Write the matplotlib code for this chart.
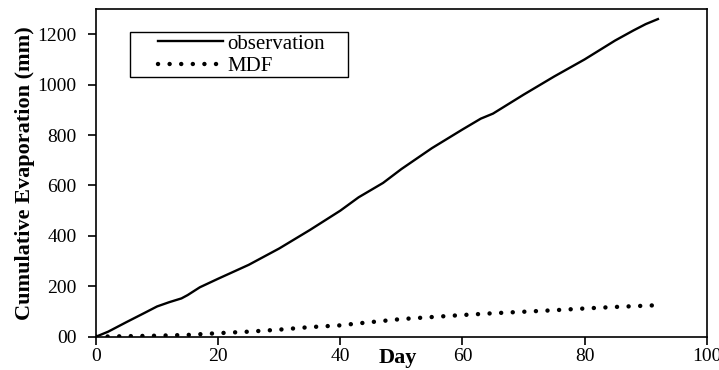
import matplotlib
matplotlib.use("Agg")
import matplotlib.pyplot as plt
from matplotlib.patches import Rectangle

plt.rcParams['font.family'] = ['Liberation Serif', 'DejaVu Serif']

# observed cumulative evaporation (mm)
obs_day = [0, 2, 5, 8, 10, 12, 14, 15, 17, 20, 25, 30, 35, 40, 43, 47, 50, 55,
           60, 63, 65, 70, 75, 80, 85, 88, 90, 92]
obs_val = [0, 20, 58, 95, 120, 137, 152, 165, 196, 230, 285, 350, 423, 500, 553,
           610, 665, 748, 822, 865, 885, 960, 1032, 1100, 1175, 1215, 1240, 1260]

# MDF model
mdf_day = [0, 5, 10, 15, 20, 25, 30, 35, 40, 43, 50, 55, 60, 65, 70, 75, 80, 85, 92]
mdf_val = [0, 2, 4, 7, 14, 20, 28, 38, 45, 53, 70, 78, 86, 93, 99, 105, 112, 118, 125]

yticks = [0, 200, 400, 600, 800, 1000, 1200]
ytick_labels = ['00', '200', '400', '600', '800', '1000', '1200']
xticks = [0, 20, 40, 60, 80, 100]

fig = plt.figure(figsize=(7.19, 3.70), dpi=100)
ax = fig.add_axes([0.1335, 0.09, 0.8495, 0.8857])

ax.plot(obs_day, obs_val, color='black', lw=1.7, label='observation')
ax.plot(mdf_day, mdf_val, color='black', lw=3.2, linestyle=(0, (0.01, 2.6)),
        dash_capstyle='round', label='MDF')

ax.set_xlim(0, 100)
ax.set_ylim(0, 1300)
ax.set_xticks(xticks)
ax.set_yticks(yticks)
ax.set_yticklabels(ytick_labels)
ax.tick_params(direction='out', length=6, width=1.2, labelsize=14)
ax.tick_params(axis='x', pad=2)
ax.tick_params(axis='y', pad=8)
for s in ax.spines.values():
    s.set_linewidth(1.2)

ax.set_ylabel('Cumulative Evaporation (mm)', fontsize=16, fontweight='bold')
ax.yaxis.set_label_coords(-0.1, 0.5)
ax.set_xlabel('Day', fontsize=16, fontweight='bold')
ax.xaxis.set_label_coords(0.494, -0.034)

# legend frame drawn separately to get the wide side margins
ax.add_patch(Rectangle((0.0556, 0.793), 0.3568, 0.137, transform=ax.transAxes,
                       facecolor='white', edgecolor='black', lw=1.0, zorder=3))
leg = ax.legend(loc='upper left', bbox_to_anchor=(0.0985, 0.93), fontsize=15,
                frameon=False, handlelength=3.1, handletextpad=0.2,
                borderpad=0.1, labelspacing=0.15, borderaxespad=0)
leg.set_zorder(4)

fig.savefig('out.png', dpi=100)
